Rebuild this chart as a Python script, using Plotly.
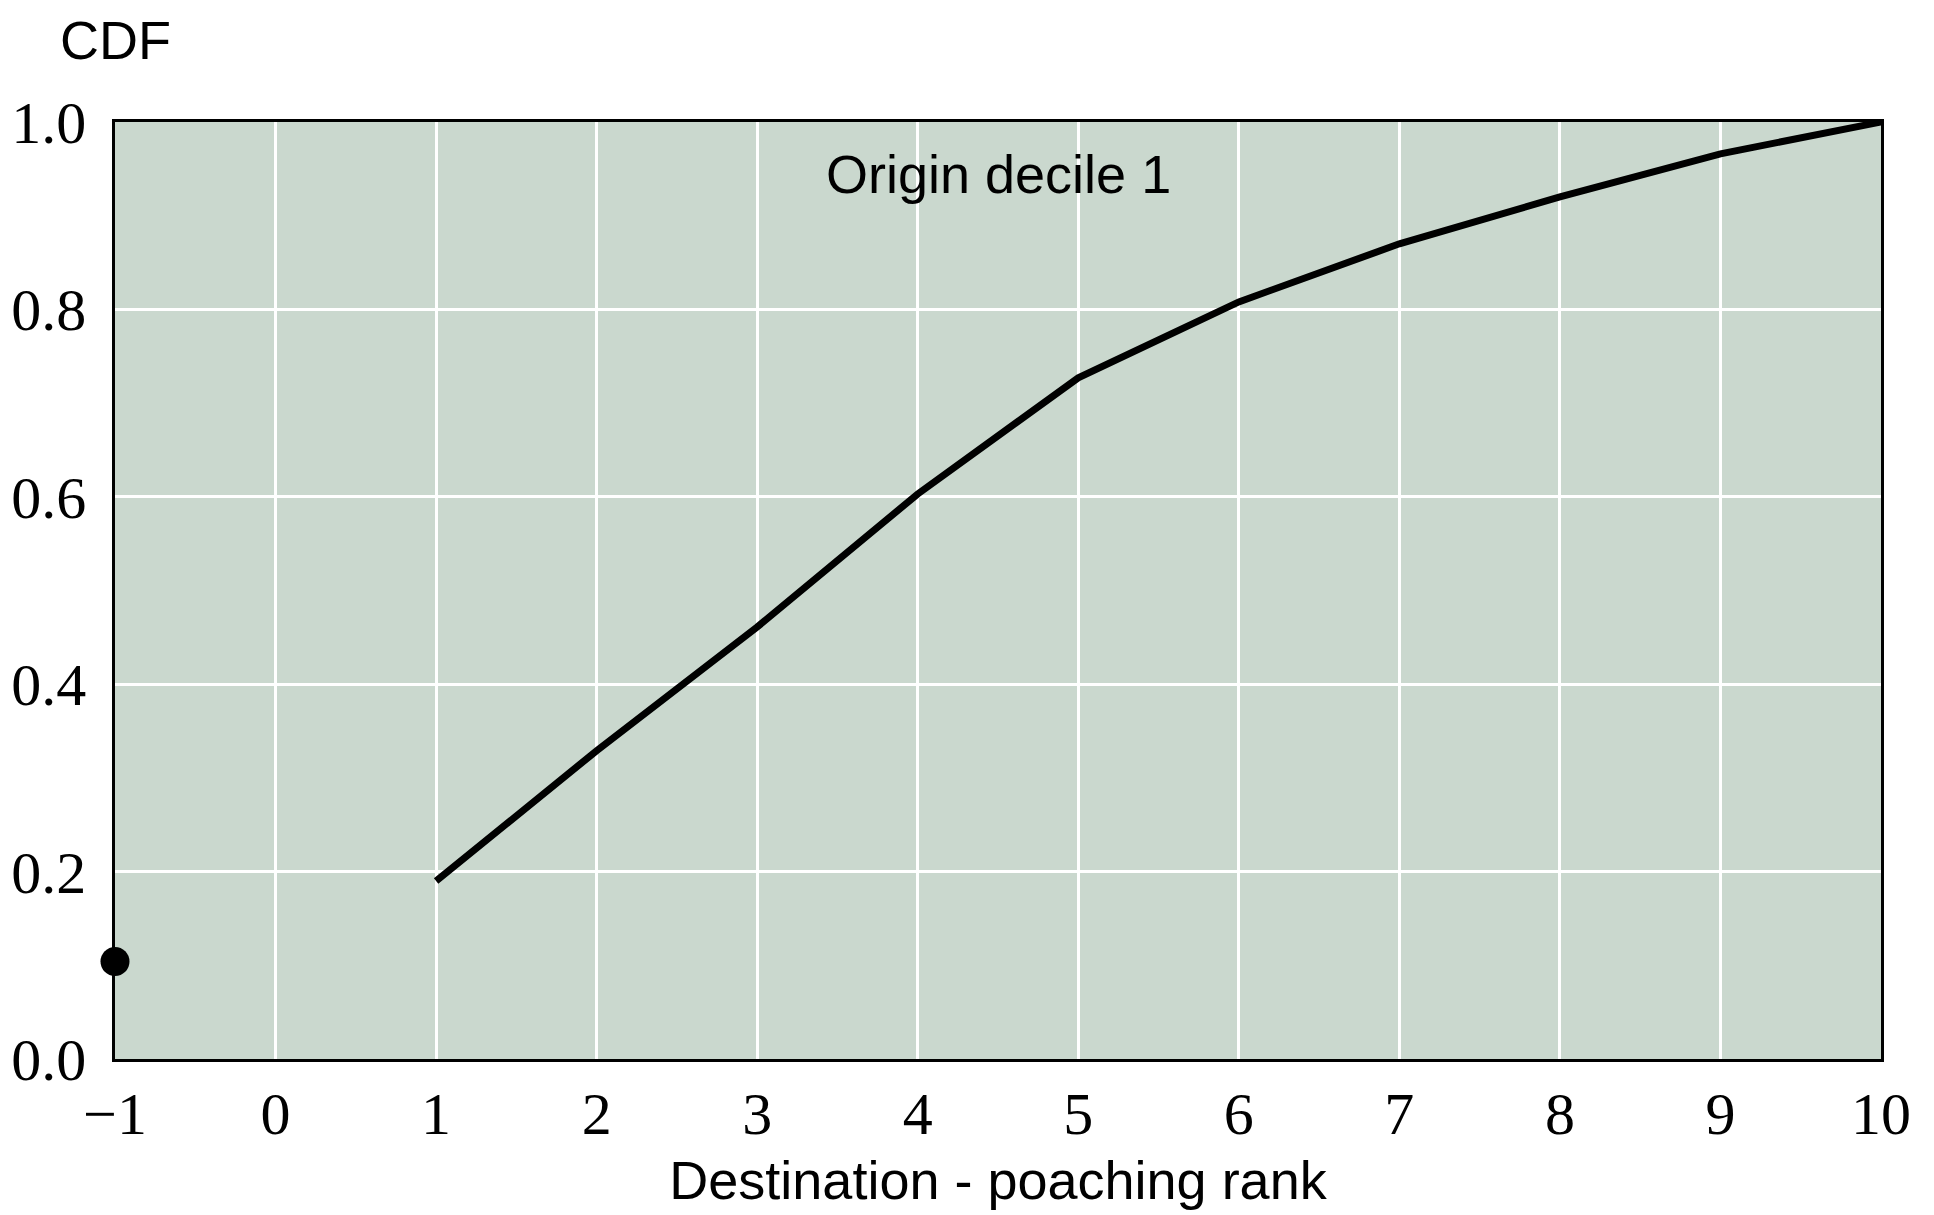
import plotly.graph_objects as go

rank_line = [1, 2, 3, 4, 5, 6, 7, 8, 9, 10]
cdf_line = [0.190, 0.329, 0.461, 0.603, 0.727, 0.808, 0.870, 0.920, 0.966, 1.0]
rank_point = [-1]
cdf_point = [0.104]
x_ticks = [-1, 0, 1, 2, 3, 4, 5, 6, 7, 8, 9, 10]
y_ticks = [0.0, 0.2, 0.4, 0.6, 0.8, 1.0]

fig = go.Figure()
fig.add_trace(go.Scatter(x=rank_line, y=cdf_line, mode="lines",
                         line=dict(color="black", width=7), showlegend=False))
fig.add_trace(go.Scatter(x=rank_point, y=cdf_point, mode="markers",
                         marker=dict(color="black", size=29), cliponaxis=False,
                         showlegend=False))

fig.update_layout(
    width=1926, height=1207,
    margin=dict(l=107, r=53, t=114, b=156),
    plot_bgcolor="#cad8ce", paper_bgcolor="white",
    xaxis=dict(range=[-1, 10], tickvals=x_ticks, showgrid=True, gridcolor="white",
               gridwidth=2.5, zeroline=False, showline=True, linecolor="black",
               linewidth=2.5, mirror=True, ticks="", ticklabelstandoff=0,
               automargin=False,
               tickfont=dict(family="Liberation Serif", size=60, color="black"),
               title=dict(text="Destination - poaching rank", standoff=16,
                          font=dict(family="Liberation Sans", size=54, color="black"))),
    yaxis=dict(range=[0, 1], tickvals=y_ticks, tickformat=".1f", showgrid=True,
               gridcolor="white", gridwidth=2.5, zeroline=False, showline=True,
               linecolor="black", linewidth=2.5, mirror=True, ticks="",
               ticklabelstandoff=14, automargin=False,
               tickfont=dict(family="Liberation Serif", size=60, color="black")),
    annotations=[
        dict(text="Origin decile 1", xref="paper", yref="y", x=0.5, y=0.945,
             showarrow=False, xanchor="center", yanchor="middle",
             font=dict(family="Liberation Sans", size=54, color="black")),
        dict(text="CDF", xref="paper", yref="paper", x=-0.032, y=1.087,
             showarrow=False, xanchor="left", yanchor="middle",
             font=dict(family="Liberation Sans", size=54, color="black")),
    ],
)

fig.write_html("out.html")
